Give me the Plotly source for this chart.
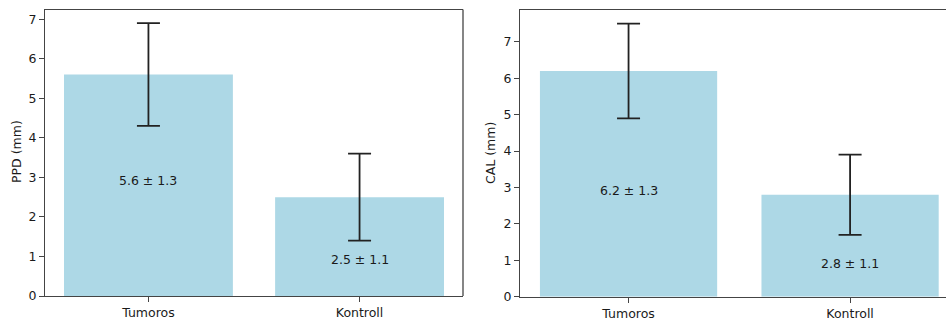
import plotly.graph_objects as go

categories = ["Tumoros", "Kontroll"]
ppd_mean = [5.6, 2.5]
ppd_sd = [1.3, 1.1]
cal_mean = [6.2, 2.8]
cal_sd = [1.3, 1.1]
ppd_label_y = [2.93, 0.93]
cal_label_y = [2.91, 0.92]
ppd_ticks = [0, 1, 2, 3, 4, 5, 6, 7]
cal_ticks = [0, 1, 2, 3, 4, 5, 6, 7]

FONT = "DejaVu Sans"
BAR = "#add8e6"
TXT = "#1a1a1a"
LINE = "#444444"

fig = go.Figure()
for means, sds, xa, ya in [(ppd_mean, ppd_sd, "x", "y"), (cal_mean, cal_sd, "x2", "y2")]:
    fig.add_trace(go.Bar(
        x=list(range(len(categories))), y=means, width=0.8,
        marker=dict(color=BAR, line=dict(width=0)),
        error_y=dict(type="data", array=sds, visible=True, color="#222222", thickness=1.8, width=11.5),
        xaxis=xa, yaxis=ya, showlegend=False, hoverinfo="skip",
    ))

annotations = []
for means, sds, ly, xa, ya in [(ppd_mean, ppd_sd, ppd_label_y, "x", "y"), (cal_mean, cal_sd, cal_label_y, "x2", "y2")]:
    for i, (m, s, y) in enumerate(zip(means, sds, ly)):
        annotations.append(dict(x=i, y=y, xref=xa, yref=ya, text=f"{m} ± {s}", showarrow=False,
                                font=dict(family=FONT, size=12.5, color=TXT)))

annotations.append(dict(x=16/946, y=(322-152)/322, xref="paper", yref="paper", text="PPD (mm)",
                        textangle=-90, showarrow=False, xanchor="center", yanchor="middle",
                        font=dict(family=FONT, size=12.5, color=TXT)))
annotations.append(dict(x=491/946, y=(322-153)/322, xref="paper", yref="paper", text="CAL (mm)",
                        textangle=-90, showarrow=False, xanchor="center", yanchor="middle",
                        font=dict(family=FONT, size=12.5, color=TXT)))

common_x = dict(tickmode="array", tickvals=[0, 1], ticktext=categories, showline=True, mirror=True,
                linecolor=LINE, linewidth=1.3, ticks="outside", ticklen=5, tickcolor=LINE,
                showgrid=False, zeroline=False, automargin=False,
                tickfont=dict(family=FONT, size=12.5, color=TXT))
common_y = dict(tickmode="array", showline=True, mirror=False, linecolor=LINE, linewidth=1.3,
                ticks="outside", ticklen=5, tickcolor=LINE, showgrid=False, zeroline=False,
                automargin=False, tickfont=dict(family=FONT, size=12.5, color=TXT))

fig.update_layout(
    width=946, height=322, margin=dict(l=0, r=0, t=0, b=0),
    paper_bgcolor="white", plot_bgcolor="white",
    xaxis=dict(domain=[45/946, 463/946], range=[-0.49, 1.49], anchor="y", **common_x),
    yaxis=dict(domain=[(322-296)/322, (322-9.5)/322], range=[0, 7.245], tickvals=ppd_ticks, anchor="x", **common_y),
    xaxis2=dict(domain=[520/946, 1.0], range=[-0.49, 1.433], anchor="y2", **common_x),
    yaxis2=dict(domain=[(322-296.7)/322, (322-10)/322], range=[0, 7.875], tickvals=cal_ticks, anchor="x2", **common_y),
    annotations=annotations,
)
# the right frame of the second panel is cut off in the reference; draw a right border only for the first
fig.add_shape(type="line", xref="paper", yref="paper", x0=463/946, x1=463/946,
              y0=(322-296)/322, y1=(322-9.5)/322, line=dict(color=LINE, width=1.3))

fig.write_html("out.html")
